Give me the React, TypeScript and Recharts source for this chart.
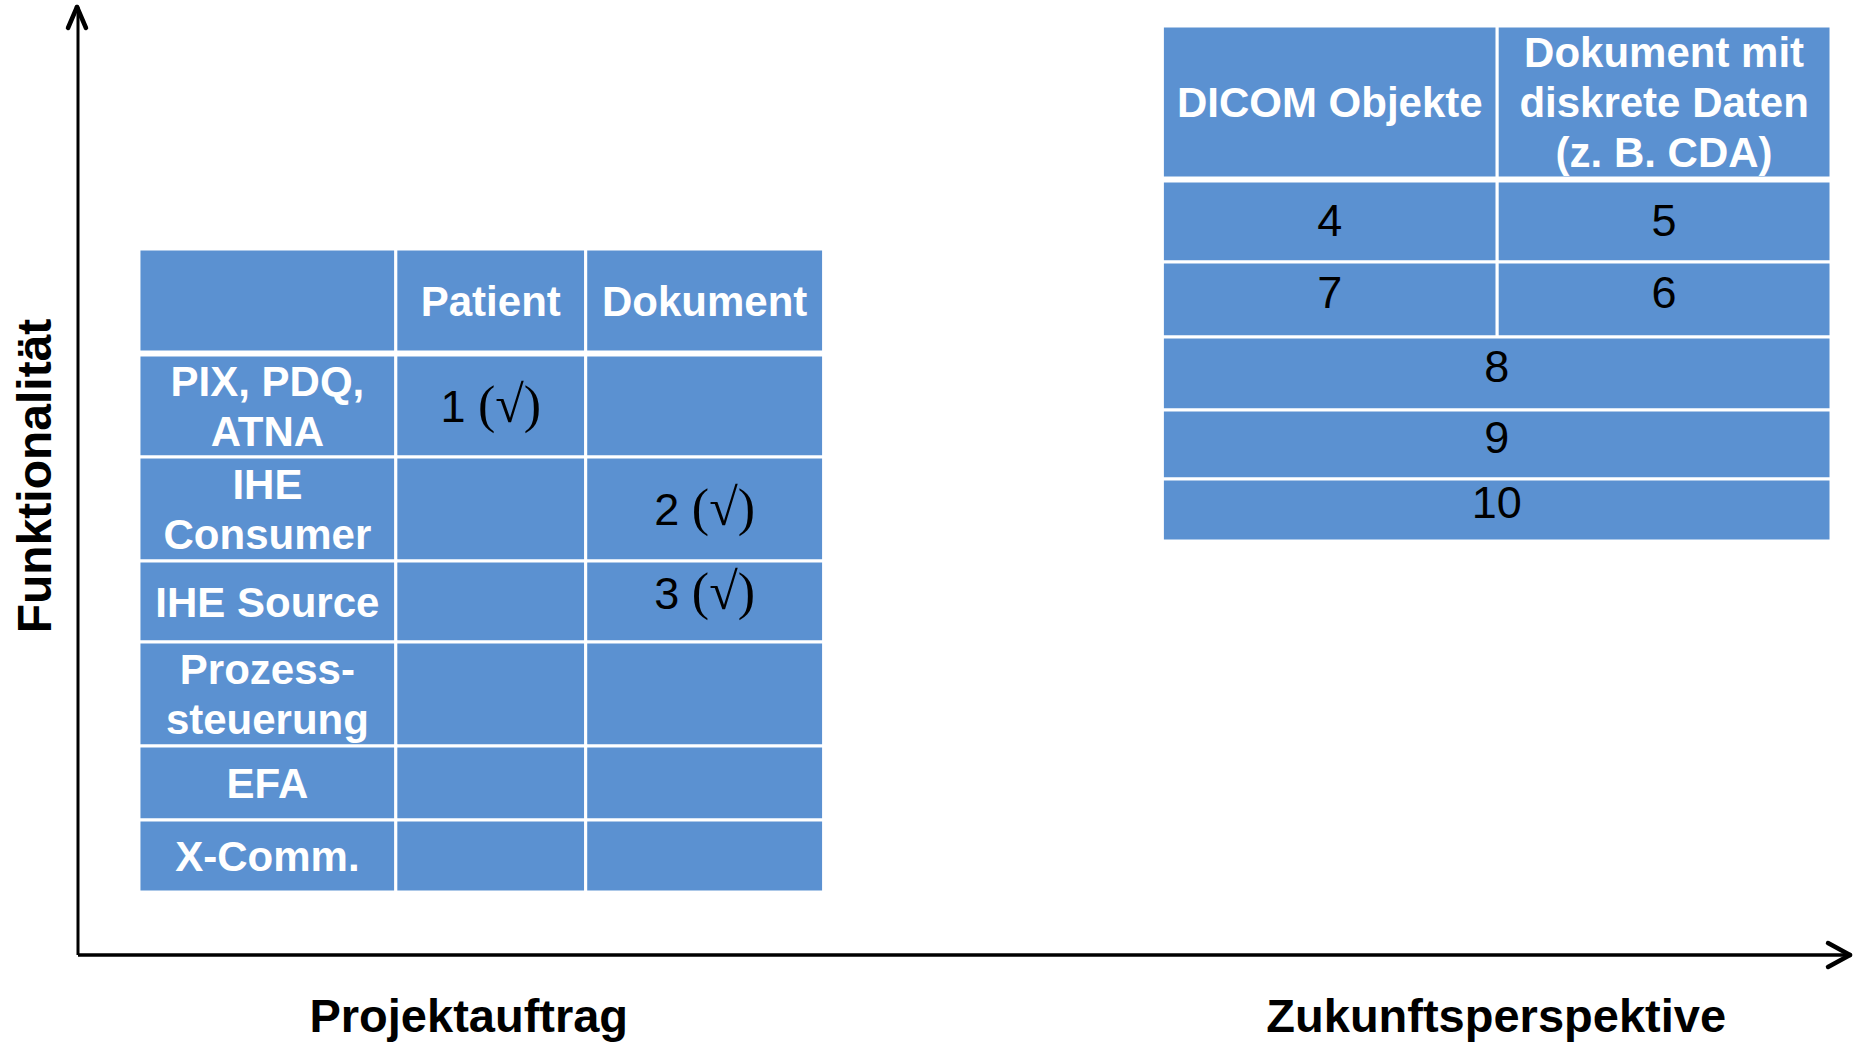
import { ComposedChart, XAxis, YAxis, ReferenceArea, ReferenceLine, Label, Scatter } from 'recharts'

// Achsen
const perspectives = ['Projektauftrag', 'Zukunftsperspektive']
const functionality = 'Funktionalität'

// linke Tabelle
const leftColumns = ['', 'Patient', 'Dokument']
const leftRows = ['PIX, PDQ,\nATNA', 'IHE\nConsumer', 'IHE Source', 'Prozess-\nsteuerung', 'EFA', 'X-Comm.']
const leftPatient = ['1 (√)', '', '', '', '', '']
const leftDokument = ['', '2 (√)', '3 (√)', '', '', '']

// rechte Tabelle
const rightColumns = ['DICOM Objekte', 'Dokument mit\ndiskrete Daten\n(z. B. CDA)']
const rightDicom = ['4', '7']
const rightDiscrete = ['5', '6']
const rightMerged = ['8', '9', '10']

// Layout (Pixel)
const W = 1854
const H = 1042
const PLOT = { left: 77, top: 7, right: 1850, bottom: 955 }
const toX = (p: number) => p - PLOT.left
const toY = (p: number) => p - PLOT.top

const leftColEdges = [138, 395, 585, 823]
const leftHeader = [249, 352]
const leftRowEdges = [355, 457, 561, 642, 746, 820, 892]
const rightColEdges = [1162, 1497, 1831]
const rightHeader = [26, 178]
const rightRowEdges = [181, 262, 337, 410, 479, 541]
const labelCenters = [468, 1496]

const FILL = '#5B91D1'
const FONT = '"Liberation Sans", Arial, sans-serif'
const SERIF = '"Liberation Serif", "Times New Roman", serif'

type Cell = { x1: number; x2: number; y1: number; y2: number; text: string; head: boolean; nudge: number }

const cells: Cell[] = []
const push = (x1: number, x2: number, y1: number, y2: number, text: string, head: boolean, nudge = 0) =>
  cells.push({ x1, x2, y1, y2, text, head, nudge })

leftColumns.forEach((c, i) => push(leftColEdges[i], leftColEdges[i + 1], leftHeader[0], leftHeader[1], c, true))
leftRows.forEach((r, i) => {
  const y1 = leftRowEdges[i]
  const y2 = leftRowEdges[i + 1]
  // kurze Zeilen: Text sitzt etwas höher
  const nudge = y2 - y1 < 82 ? 9 : 0
  push(leftColEdges[0], leftColEdges[1], y1, y2, r, true)
  push(leftColEdges[1], leftColEdges[2], y1, y2, leftPatient[i], false, nudge)
  push(leftColEdges[2], leftColEdges[3], y1, y2, leftDokument[i], false, nudge)
})
rightColumns.forEach((c, i) => push(rightColEdges[i], rightColEdges[i + 1], rightHeader[0], rightHeader[1], c, true))
rightDicom.forEach((v, i) => {
  const nudge = i === 0 ? 2 : 8
  push(rightColEdges[0], rightColEdges[1], rightRowEdges[i], rightRowEdges[i + 1], v, false, nudge)
  push(rightColEdges[1], rightColEdges[2], rightRowEdges[i], rightRowEdges[i + 1], rightDiscrete[i], false, nudge)
})
rightMerged.forEach((v, i) => {
  const r = i + rightDicom.length
  push(rightColEdges[0], rightColEdges[2], rightRowEdges[r], rightRowEdges[r + 1], v, false, 8)
})

// Zellmitten als (unsichtbare) Datenpunkte, damit das Diagramm Achsen hat
const centers = cells.map((c) => ({ x: toX((c.x1 + c.x2) / 2), y: toY((c.y1 + c.y2) / 2) }))

function renderText(text: string, cx: number, cy: number, head: boolean) {
  if (!text) return null
  const lines = text.split('\n')
  const size = head ? 42 : 45
  const lh = 50
  const y0 = cy - ((lines.length - 1) * lh) / 2 + (size * 0.716) / 2
  return (
    <text
      textAnchor="middle"
      fontFamily={FONT}
      fontSize={size}
      fontWeight={head ? 700 : 400}
      fill={head ? '#ffffff' : '#000000'}
    >
      {lines.map((l, i) => {
        const k = l.indexOf('(')
        return (
          <tspan key={i} x={cx} y={y0 + i * lh}>
            {k > 0 && !head ? (
              <>
                {l.slice(0, k)}
                <tspan fontFamily={SERIF} fontSize={52}>{l.slice(k)}</tspan>
              </>
            ) : (
              l
            )}
          </tspan>
        )
      })}
    </text>
  )
}

const cellShape = (cell: Cell) => (p: any) => {
  const { x, y, width, height } = p
  return (
    <g>
      <rect x={x} y={y} width={width} height={height} fill={FILL} stroke="#ffffff" strokeWidth={3} />
      {renderText(cell.text, x + width / 2, y + height / 2 - cell.nudge, cell.head)}
    </g>
  )
}

const XTick = (props: any) => {
  const { x, y, index } = props
  return (
    <text x={x} y={y + 77} textAnchor="middle" fontFamily={FONT} fontSize={47} fontWeight={700} fill="#000">
      {perspectives[index]}
    </text>
  )
}

const YLabel = (props: any) => {
  const { viewBox } = props
  const cx = viewBox.x - 26
  const cy = viewBox.y + viewBox.height / 2 - 5
  return (
    <text
      x={cx}
      y={cy}
      transform={`rotate(-90 ${cx} ${cy})`}
      textAnchor="middle"
      fontFamily={FONT}
      fontSize={48}
      fontWeight={700}
      fill="#000"
    >
      {functionality}
    </text>
  )
}

const arrowStyle = { stroke: '#000', strokeWidth: 4.5, strokeLinecap: 'round' as const }

export default function App() {
  const xMax = toX(PLOT.right)
  const yMax = toY(PLOT.bottom)
  return (
    <div style={{ position: 'absolute', left: 0, top: 0, background: '#fff' }}>
      <ComposedChart
        width={W}
        height={H}
        data={centers}
        margin={{ top: PLOT.top, right: W - PLOT.right, bottom: 0, left: PLOT.left }}
      >
        <XAxis
          type="number"
          dataKey="x"
          domain={[0, xMax]}
          allowDataOverflow
          height={H - PLOT.bottom}
          ticks={labelCenters.map(toX)}
          tick={<XTick />}
          tickLine={false}
          tickSize={0}
          tickMargin={0}
          interval={0}
          axisLine={{ stroke: '#000', strokeWidth: 3.5 }}
        />
        <YAxis
          type="number"
          dataKey="y"
          domain={[0, yMax]}
          allowDataOverflow
          reversed
          width={1}
          tick={false}
          tickLine={false}
          axisLine={{ stroke: '#000', strokeWidth: 3 }}
        >
          <Label content={<YLabel />} />
        </YAxis>

        {cells.map((c, i) => (
          <ReferenceArea
            key={i}
            x1={toX(c.x1)}
            x2={toX(c.x2)}
            y1={toY(c.y1)}
            y2={toY(c.y2)}
            ifOverflow="visible"
            shape={cellShape(c)}
          />
        ))}

        <Scatter data={centers} dataKey="y" isAnimationActive={false} shape={() => <g />} />

        {/* Pfeilspitzen */}
        <ReferenceLine segment={[{ x: -10, y: 21 }, { x: -1, y: 0 }]} ifOverflow="visible" {...arrowStyle} />
        <ReferenceLine segment={[{ x: 8, y: 21 }, { x: -1, y: 0 }]} ifOverflow="visible" {...arrowStyle} />
        <ReferenceLine segment={[{ x: xMax - 22, y: yMax - 12 }, { x: xMax, y: yMax }]} ifOverflow="visible" {...arrowStyle} />
        <ReferenceLine segment={[{ x: xMax - 22, y: yMax + 12 }, { x: xMax, y: yMax }]} ifOverflow="visible" {...arrowStyle} />
      </ComposedChart>
    </div>
  )
}
